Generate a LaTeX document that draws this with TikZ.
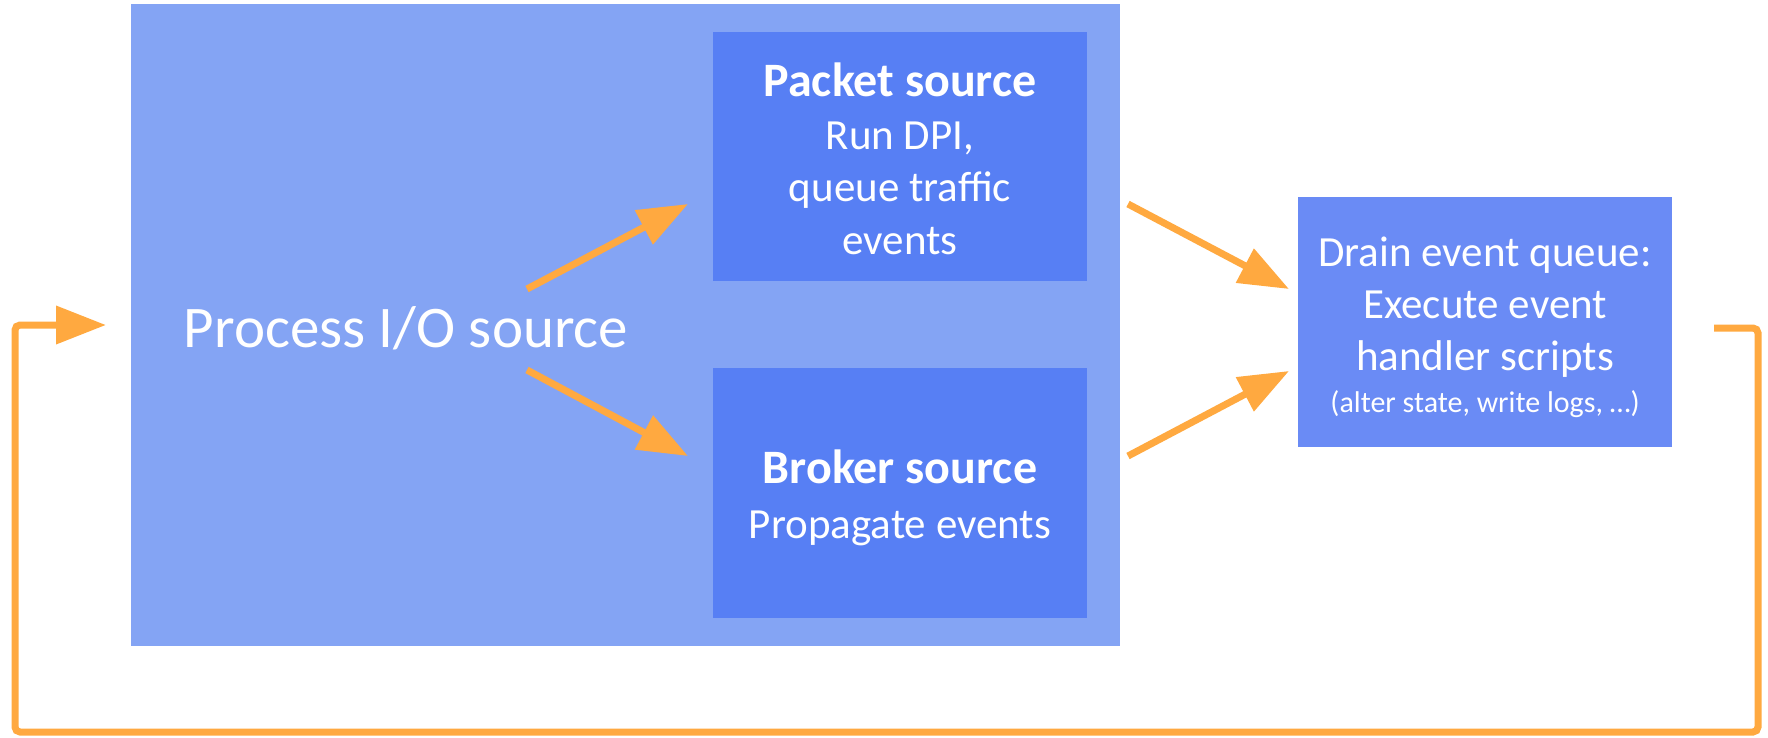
\documentclass[tikz,border=0pt]{standalone}
\usepackage{fontspec}
\setmainfont{Carlito}
\usetikzlibrary{arrows.meta}
\definecolor{outerblue}{HTML}{84A4F4}
\definecolor{innerblue}{HTML}{577FF4}
\definecolor{drainblue}{HTML}{6A8BF5}
\definecolor{arrorange}{HTML}{FFA940}
\tikzset{
  box/.style={draw=none, inner sep=0pt, outer sep=0pt, text=white, align=center},
  flow/.style={draw=arrorange, line width=7pt, -{Triangle[length=50pt,width=37pt]}},
}
\begin{document}
\begin{tikzpicture}[x=1pt,y=-1pt]
\useasboundingbox[fill=white] (0,0) rectangle (1768,737);
% outer box
\node[box, fill=outerblue, minimum width=989pt, minimum height=642pt] (io) at (625.5,325) {};
\node[box, font=\fontsize{59}{68}\selectfont] (proc) at (406,328) {Process I/O source};
% packet box
\node[box, fill=innerblue, minimum width=374pt, minimum height=249pt] (packet) at (900,156.5) {};
\node[box, font=\fontsize{43}{52.5}\selectfont] (packettxt) at (900,159) {\textbf{\fontsize{48}{52.5}\selectfont Packet source}\\Run DPI,\\queue traffic\\events};
% broker box
\node[box, fill=innerblue, minimum width=374pt, minimum height=250pt] (broker) at (900,493) {};
\node[box, font=\fontsize{43}{55}\selectfont] (brokertxt) at (900,498) {\textbf{\fontsize{48}{55}\selectfont Broker source}\\Propagate events};
% drain box
\node[box, fill=drainblue, minimum width=374pt, minimum height=250pt] (drain) at (1485,322) {};
\node[box, font=\fontsize{43}{52}\selectfont] (draintxt) at (1485,327) {Drain event queue:\\Execute event\\handler scripts\\[-10pt]{\fontsize{30}{34}\selectfont (alter state, write logs, \dots)}};
% arrow end points
\coordinate (a1s) at (527,289);
\coordinate (a1e) at (688,204);
\coordinate (a2s) at (527,370);
\coordinate (a2e) at (688,456);
\coordinate (b1s) at (1128,204);
\coordinate (b1e) at (1289,289);
\coordinate (b2s) at (1128,456);
\coordinate (b2e) at (1289,371);
\coordinate (ls) at (1714,328);
\coordinate (le) at (106,325);
\draw[flow] (a1s) -- (a1e);
\draw[flow] (a2s) -- (a2e);
\draw[flow] (b1s) -- (b1e);
\draw[flow] (b2s) -- (b2e);
\draw[flow, rounded corners=5pt] (ls) -- (1758,328) -- (1758,732) -- (15,732) -- (15,325) -- (le);
\end{tikzpicture}
\end{document}
